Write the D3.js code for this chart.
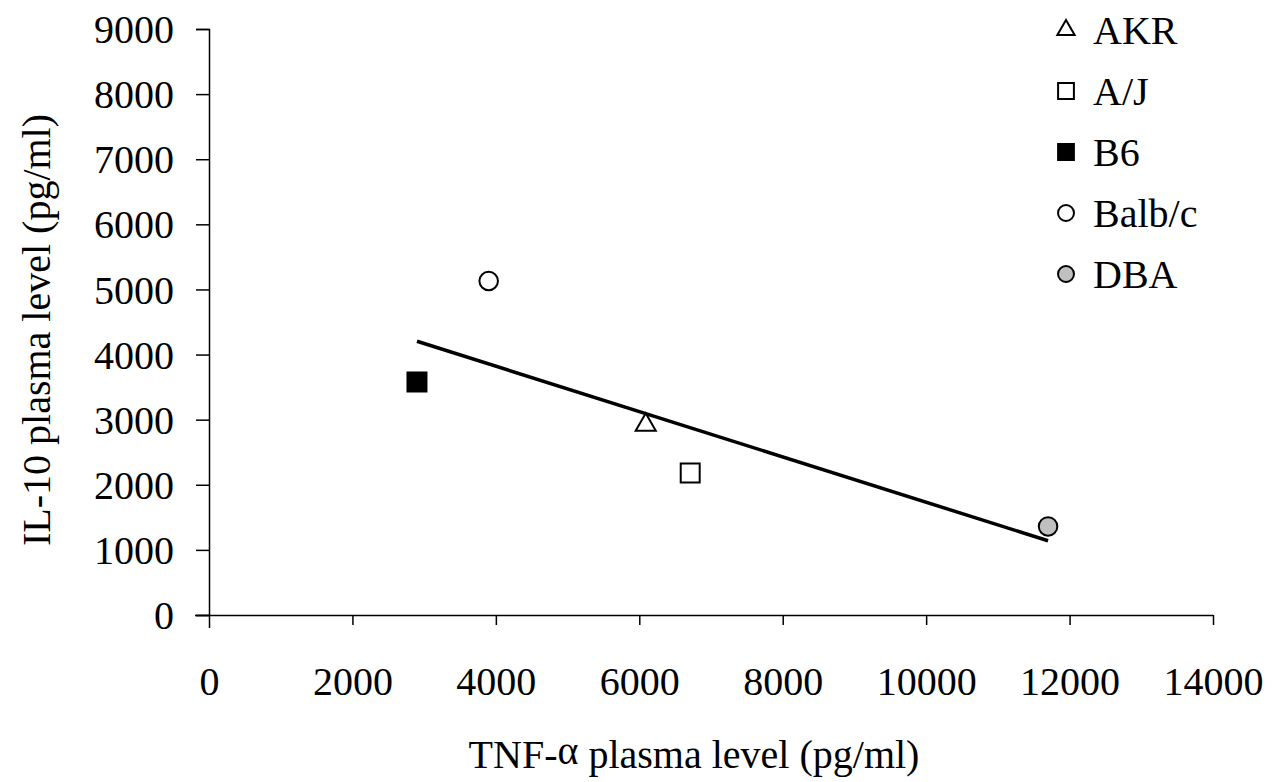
<!DOCTYPE html>
<html>
<head>
<meta charset="utf-8">
<script src="https://cdn.jsdelivr.net/npm/d3@7"></script>
<style>
  body { margin: 0; background: #fff; }
  text { font-family: "Liberation Serif", "Times New Roman", serif; fill: #000; }
</style>
</head>
<body>
<div id="chart"></div>
<script>
// strains and their plasma levels (pg/ml)
var strains = ["AKR", "A/J", "B6", "Balb/c", "DBA"];
var tnfValues = [6090, 6710, 2900, 3900, 11700];
var il10Values = [2920, 2180, 3580, 5130, 1360];
var xTicks = [0, 2000, 4000, 6000, 8000, 10000, 12000, 14000];
var yTicks = [0, 1000, 2000, 3000, 4000, 5000, 6000, 7000, 8000, 9000];

var markerStyle = {
    "AKR": { shape: d3.symbolTriangle, fill: "#fff" },
    "A/J": { shape: d3.symbolSquare, fill: "#fff" },
    "B6": { shape: d3.symbolSquare, fill: "#000" },
    "Balb/c": { shape: d3.symbolCircle, fill: "#fff" },
    "DBA": { shape: d3.symbolCircle, fill: "#c0c0c0" }
};

var width = 1278, height = 782;
var fontSize = "40px";

var svg = d3.select("#chart")
    .append("svg")
    .attr("width", width)
    .attr("height", height);

var x = d3.scaleLinear().domain([0, 14000]).range([209, 1213]);
var y = d3.scaleLinear().domain([0, 9000]).range([615, 29]);

var data = strains.map(function (s, i) {
    return { name: s, tnf: tnfValues[i], il10: il10Values[i] };
});

// y axis
var yAxis = svg.append("g")
    .attr("transform", "translate(209,0)")
    .call(d3.axisLeft(y).tickValues(yTicks).tickSize(13).tickPadding(22).tickFormat(d3.format("d")));
yAxis.selectAll("text").style("font-size", fontSize).attr("dy", "0.34em");

// x axis
var xAxis = svg.append("g")
    .attr("transform", "translate(0,615)")
    .call(d3.axisBottom(x).tickValues(xTicks).tickSize(10).tickPadding(42).tickFormat(d3.format("d")));
xAxis.selectAll("text").style("font-size", fontSize);

svg.selectAll(".domain").attr("stroke", "#000").attr("stroke-width", 1.5);
svg.selectAll(".tick line").attr("stroke", "#000").attr("stroke-width", 1.5);
xAxis.select(".domain").attr("d", "M195,0.5H1213");
xAxis.select(".tick line").attr("y2", 13);

// axis titles
var xTitle = svg.append("text")
    .attr("x", 694)
    .attr("y", 768)
    .attr("text-anchor", "middle")
    .style("font-size", fontSize);
xTitle.append("tspan").text("TNF-");
xTitle.append("tspan").attr("dy", -4).text("α");
xTitle.append("tspan").attr("dy", 4).text(" plasma level (pg/ml)");

svg.append("text")
    .attr("transform", "translate(50,330) rotate(-90)")
    .attr("text-anchor", "middle")
    .style("font-size", fontSize)
    .text("IL-10 plasma level (pg/ml)");

// linear trend line over the data
var mx = d3.mean(data, function (d) { return d.tnf; });
var my = d3.mean(data, function (d) { return d.il10; });
var sxy = d3.sum(data, function (d) { return (d.tnf - mx) * (d.il10 - my); });
var sxx = d3.sum(data, function (d) { return (d.tnf - mx) * (d.tnf - mx); });
var slope = sxy / sxx;
var ext = d3.extent(tnfValues);
var trend = ext.map(function (v) { return [v, my + slope * (v - mx)]; });

svg.append("path")
    .datum(trend)
    .attr("fill", "none")
    .attr("stroke", "#000")
    .attr("stroke-width", 3.5)
    .attr("d", d3.line().x(function (d) { return x(d[0]); }).y(function (d) { return y(d[1]); }));

// points
function symbolFor(name, big) {
    var st = markerStyle[name];
    var size;
    if (st.shape === d3.symbolTriangle) size = big ? 175 : 130;
    else if (st.shape === d3.symbolSquare) size = big ? 360 : 250;
    else size = big ? 270 : 200;
    return d3.symbol().type(st.shape).size(size)();
}

svg.selectAll(".pt")
    .data(data)
    .enter()
    .append("path")
    .attr("class", "pt")
    .attr("transform", function (d) { return "translate(" + x(d.tnf) + "," + y(d.il10) + ")"; })
    .attr("d", function (d) { return symbolFor(d.name, true); })
    .attr("fill", function (d) { return markerStyle[d.name].fill; })
    .attr("stroke", "#000")
    .attr("stroke-width", 2);

// legend
var legend = svg.selectAll(".leg")
    .data(strains)
    .enter()
    .append("g")
    .attr("class", "leg")
    .attr("transform", function (d, i) { return "translate(1066," + (30 + i * 61) + ")"; });

legend.append("path")
    .attr("d", function (d) { return symbolFor(d, false); })
    .attr("fill", function (d) { return markerStyle[d].fill; })
    .attr("stroke", "#000")
    .attr("stroke-width", 2);

legend.append("text")
    .attr("x", 27)
    .attr("dy", "0.34em")
    .style("font-size", fontSize)
    .text(function (d) { return d; });
</script>
</body>
</html>
